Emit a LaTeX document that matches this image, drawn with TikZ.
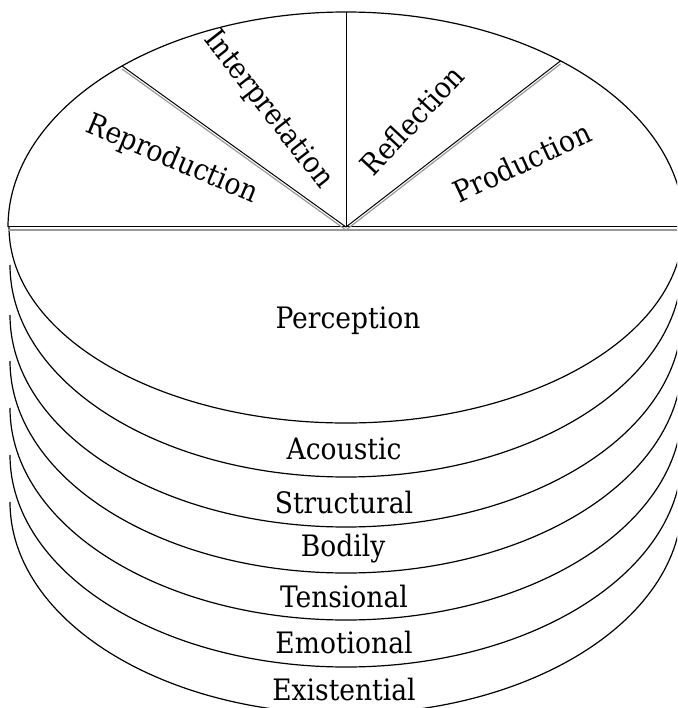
\documentclass[tikz,border=0pt]{standalone}
\usepackage{fontspec}
\setmainfont{DejaVu Serif Condensed}
\usetikzlibrary{calc}
\begin{document}
\begin{tikzpicture}[x=1pt,y=-1pt,
  edge/.style={line width=1pt,black},
  shade/.style={line width=1.2pt,black!40},
  rim/.style={line width=1.2pt,black},
  lbl/.style={inner sep=0pt,font=\fontsize{29.5}{34}\selectfont}]
\useasboundingbox (0,0) rectangle (677,708);
\clip (0,0) rectangle (677,708);
\coordinate (c) at (346,227);
\coordinate (L) at (8,227);
\coordinate (R) at (690,227);
\coordinate (p1) at ($(c)+(131.5:338pt and 215pt)$);
\coordinate (p2) at ($(c)+(90:338pt and 215pt)$);
\coordinate (p3) at ($(c)+(50.6:338pt and 215pt)$);
% top ellipse
\draw[rim] (L) arc[start angle=180,end angle=0,x radius=338pt,y radius=215pt];
% layers (lower halves)
\draw[rim] (9,227) arc[start angle=180,end angle=360,x radius=337pt,y radius=196pt];
\foreach \cy in {265,315,361,408,455,502}{
  \draw[rim] (10,\cy) arc[start angle=180,end angle=360,x radius=336pt,y radius=212pt];
}
% dividers
\draw[shade] ($(L)+(0,3)$) -- ($(R)+(0,3)$);
\draw[edge] (L) -- (R);
\draw[shade] ($(p1)+(0,3)$) -- ($(c)+(0,3)$);
\draw[edge] (p1) -- (c);
\draw[shade] ($(p3)+(0,3)$) -- ($(c)+(0,3)$);
\draw[edge] (p3) -- (c);
\draw[edge] (p2) -- (c);
% labels
\node[lbl,rotate=-23] (repro) at (172,160) {Reproduction};
\node[lbl,rotate=-52] (interp) at (268,110) {Interpretation};
\node[lbl,rotate=47] (refl) at (412,120) {Reflection};
\node[lbl,rotate=25] (prod) at (522,162) {Production};
\node[lbl] (perc) at (348,321) {Perception};
\node[lbl] (acou) at (344,449) {Acoustic};
\node[lbl] (stru) at (344,502) {Structural};
\node[lbl] (bodi) at (343,549) {Bodily};
\node[lbl] (tens) at (344,596) {Tensional};
\node[lbl] (emot) at (344,642) {Emotional};
\node[lbl] (exis) at (344,689) {Existential};
\end{tikzpicture}
\end{document}
